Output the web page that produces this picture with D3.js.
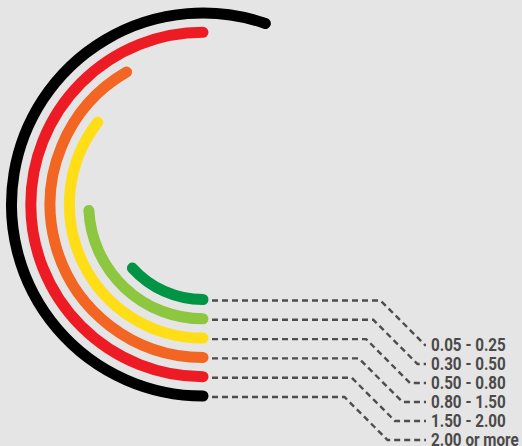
<!DOCTYPE html>
<html>
<head>
<meta charset="utf-8">
<script src="https://cdn.jsdelivr.net/npm/d3@7"></script>
<style>
  html, body { margin: 0; padding: 0; background: #e5e5e5; }
  svg { display: block; }
  .label { font-family: Roboto, "Liberation Sans", sans-serif; font-weight: 700; font-size: 17.5px; fill: #4a4a4a; }
</style>
</head>
<body>
<div id="chart"></div>
<script>
// categories, innermost arc first
const categories = ["0.05 - 0.25", "0.30 - 0.50", "0.50 - 0.80", "0.80 - 1.50", "1.50 - 2.00", "2.00 or more"];
// sweep of each arc in degrees
const sweeps = [48, 87, 128, 150, 180, 199];
const colors = ["#009444", "#8dc63f", "#ffde17", "#f26522", "#ed1c24", "#000000"];

const width = 522, height = 446;
const cx = 203, cy = 204.5;

const svg = d3.select("#chart")
    .append("svg")
    .attr("width", width)
    .attr("height", height);

const data = categories.map((c, i) => ({cat: c, sweep: sweeps[i], color: colors[i], i: i}));

// radius per category
const rScale = d3.scalePoint()
    .domain(categories)
    .range([95, 191.5]);

// degrees -> radians
const aScale = d3.scaleLinear()
    .domain([0, 360])
    .range([0, 2 * Math.PI]);

// label rows
const yLabel = d3.scalePoint()
    .domain(categories)
    .range([345, 440]);

function arcPath(d) {
    const p = d3.path();
    const r = rScale(d.cat);
    // start at bottom, run clockwise through the left side
    const a0 = Math.PI / 2;
    p.arc(cx, cy, r, a0, a0 + aScale(d.sweep), false);
    return p.toString();
}

// leader lines
const lineGen = d3.line();
svg.selectAll(".leader")
    .data(data)
    .enter()
    .append("path")
    .attr("class", "leader")
    .attr("d", d => {
        const y0 = cy + rScale(d.cat) + 1;
        const y1 = yLabel(d.cat);
        const xEnd = 425 - d.i * 7.5;
        const xBreak = xEnd - (y1 - y0);
        return lineGen([[212, y0], [xBreak, y0], [xEnd, y1], [426, y1]]);
    })
    .attr("fill", "none")
    .attr("stroke", "#4d4d4d")
    .attr("stroke-width", 2.4)
    .attr("stroke-dasharray", "6,4");

svg.selectAll(".arc")
    .data(data)
    .enter()
    .append("path")
    .attr("class", "arc")
    .attr("d", arcPath)
    .attr("fill", "none")
    .attr("stroke", d => d.color)
    .attr("stroke-width", 11)
    .attr("stroke-linecap", "round");

// condensed look: squeeze the labels horizontally
svg.selectAll(".label")
    .data(data)
    .enter()
    .append("text")
    .attr("class", "label")
    .attr("transform", d => `translate(431,${yLabel(d.cat)}) scale(0.87,1)`)
    .attr("dy", "0.36em")
    .text(d => d.cat);
</script>
</body>
</html>
